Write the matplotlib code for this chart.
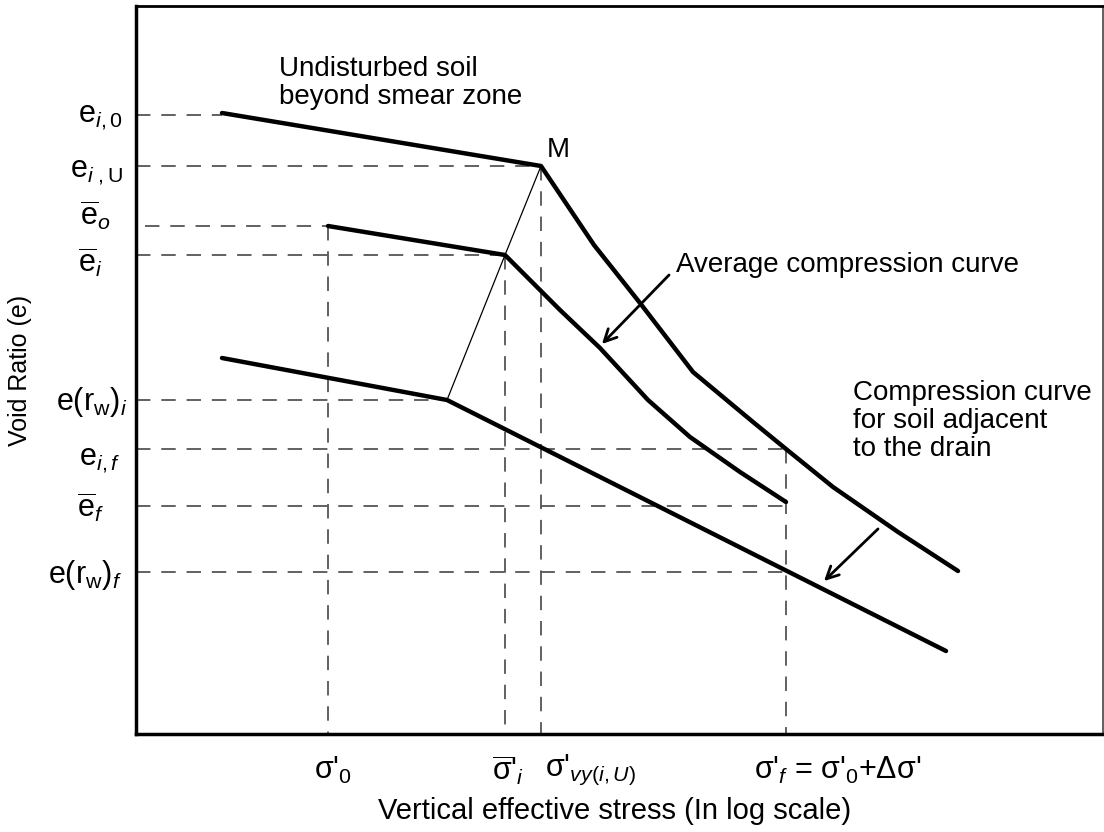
import matplotlib
matplotlib.use('Agg')
import matplotlib.pyplot as plt

plt.rcParams['font.family'] = ['Liberation Sans', 'DejaVu Sans']
plt.rcParams['mathtext.fontset'] = 'custom'
plt.rcParams['mathtext.rm'] = 'Liberation Sans'
plt.rcParams['mathtext.it'] = 'Liberation Sans:italic'
plt.rcParams['mathtext.default'] = 'regular'

# schematic curves (x: log stress position, y: void ratio position; y axis is inverted)
undisturbed_x = [222, 541, 594, 640, 693, 753, 786, 833, 898, 958]
undisturbed_y = [113, 166, 245, 303, 372, 422, 449, 487, 532, 571]
average_x = [328, 505, 560, 600, 648, 690, 740, 786]
average_y = [226, 255, 310, 348, 400, 437, 472, 502]
adjacent_x = [222, 447, 946]
adjacent_y = [358, 400, 651]
# thin line linking the yield points
link_x = [541, 505, 447]
link_y = [166, 255, 400]

# reference levels
e_levels = [115, 166, 226, 255, 400, 449, 506, 572]
e_ends = [222, 541, 328, 505, 447, 786, 786, 786]
e_starts = [136, 136, 145, 136, 136, 136, 136, 136]
e_labels = [r'e$_{\mathit{i,0}}$', r'e$_{\mathit{i\ },U}$', r'$\overline{e}_{\mathit{o}}$',
            r'$\overline{e}_{\mathit{i}}$', r'e(r$_{w}$)$_{\mathit{i}}$', r'e$_{\mathit{i,f}}$',
            r'$\overline{e}_{\mathit{f}}$', r'e(r$_{w}$)$_{\mathit{f}}$']
e_label_base = [122, 177, 225, 272, 410, 465, 517, 583]
e_label_right = [123, 123, 110, 102, 128, 120, 104, 122]
s_levels = [328, 505, 541, 786]
s_tops = [226, 255, 166, 449]
s_labels = [r"σ'$_{\mathit{0}}$", r"$\overline{σ}$'$_{\mathit{i}}$", r"σ'$_{\mathit{vy(i,U)}}$",
            r"σ'$_{\mathit{f}}$ = σ'$_{\mathit{0}}$+$\Delta$σ'"]
s_label_x = [333, 508, 545, 838]

fig = plt.figure(figsize=(11.04, 8.32), dpi=100)
ax = fig.add_axes([136 / 1104, 1 - 734 / 832, 967 / 1104, 728 / 832])
ax.set_xlim(136, 1103)
ax.set_ylim(734, 6)

dash = dict(color='#555555', lw=1.3, dashes=(8, 6))
for y, x0, x1 in zip(e_levels, e_starts, e_ends):
    ax.plot([x0, x1], [y, y], **dash)
for x, y0 in zip(s_levels, s_tops):
    ax.plot([x, x], [y0, 734], **dash)

for xs, ys in [(undisturbed_x, undisturbed_y), (average_x, average_y), (adjacent_x, adjacent_y)]:
    ax.plot(xs, ys, color='black', lw=3.2, solid_capstyle='round', solid_joinstyle='round')
ax.plot(link_x, link_y, color='black', lw=0.9)

ax.set_xticks([])
ax.set_yticks([])
for x, y, lab in zip(e_label_right, e_label_base, e_labels):
    ax.text(x, y, lab, fontsize=22, ha='right', va='baseline', clip_on=False)
for x, lab in zip(s_label_x, s_labels):
    ax.text(x, 770, lab, fontsize=22, ha='center' if x != 545 else 'left', va='center')

ax.text(279, 83, 'Undisturbed soil\nbeyond smear zone', fontsize=20, ha='left', va='center',
        linespacing=1.1)
ax.text(547, 150, 'M', fontsize=20, ha='left', va='center')
ax.text(676, 265, 'Average compression curve', fontsize=20, ha='left', va='center')
ax.annotate('', xy=(600, 346), xytext=(671, 273),
            arrowprops=dict(arrowstyle='->', lw=2, color='black', mutation_scale=22))
ax.text(853, 421, 'Compression curve\nfor soil adjacent\nto the drain', fontsize=20,
        ha='left', va='center', linespacing=1.1)
ax.annotate('', xy=(822, 583), xytext=(880, 527),
            arrowprops=dict(arrowstyle='->', lw=2, color='black', mutation_scale=22))

ax.set_xlabel('Vertical effective stress (In log scale)', fontsize=21)
ax.xaxis.set_label_coords(0.495, -0.106)
ax.xaxis.label.set_va('center')
ax.set_ylabel('Void Ratio (e)', fontsize=18)
ax.yaxis.set_label_coords(-0.12, 0.5)
ax.yaxis.label.set_va('center')

for side in ['left', 'bottom']:
    ax.spines[side].set_linewidth(2.5)
ax.spines['top'].set_linewidth(2)
ax.spines['right'].set_linewidth(1.2)
ax.spines['right'].set_color('#444444')

fig.savefig('out.png', dpi=100)
